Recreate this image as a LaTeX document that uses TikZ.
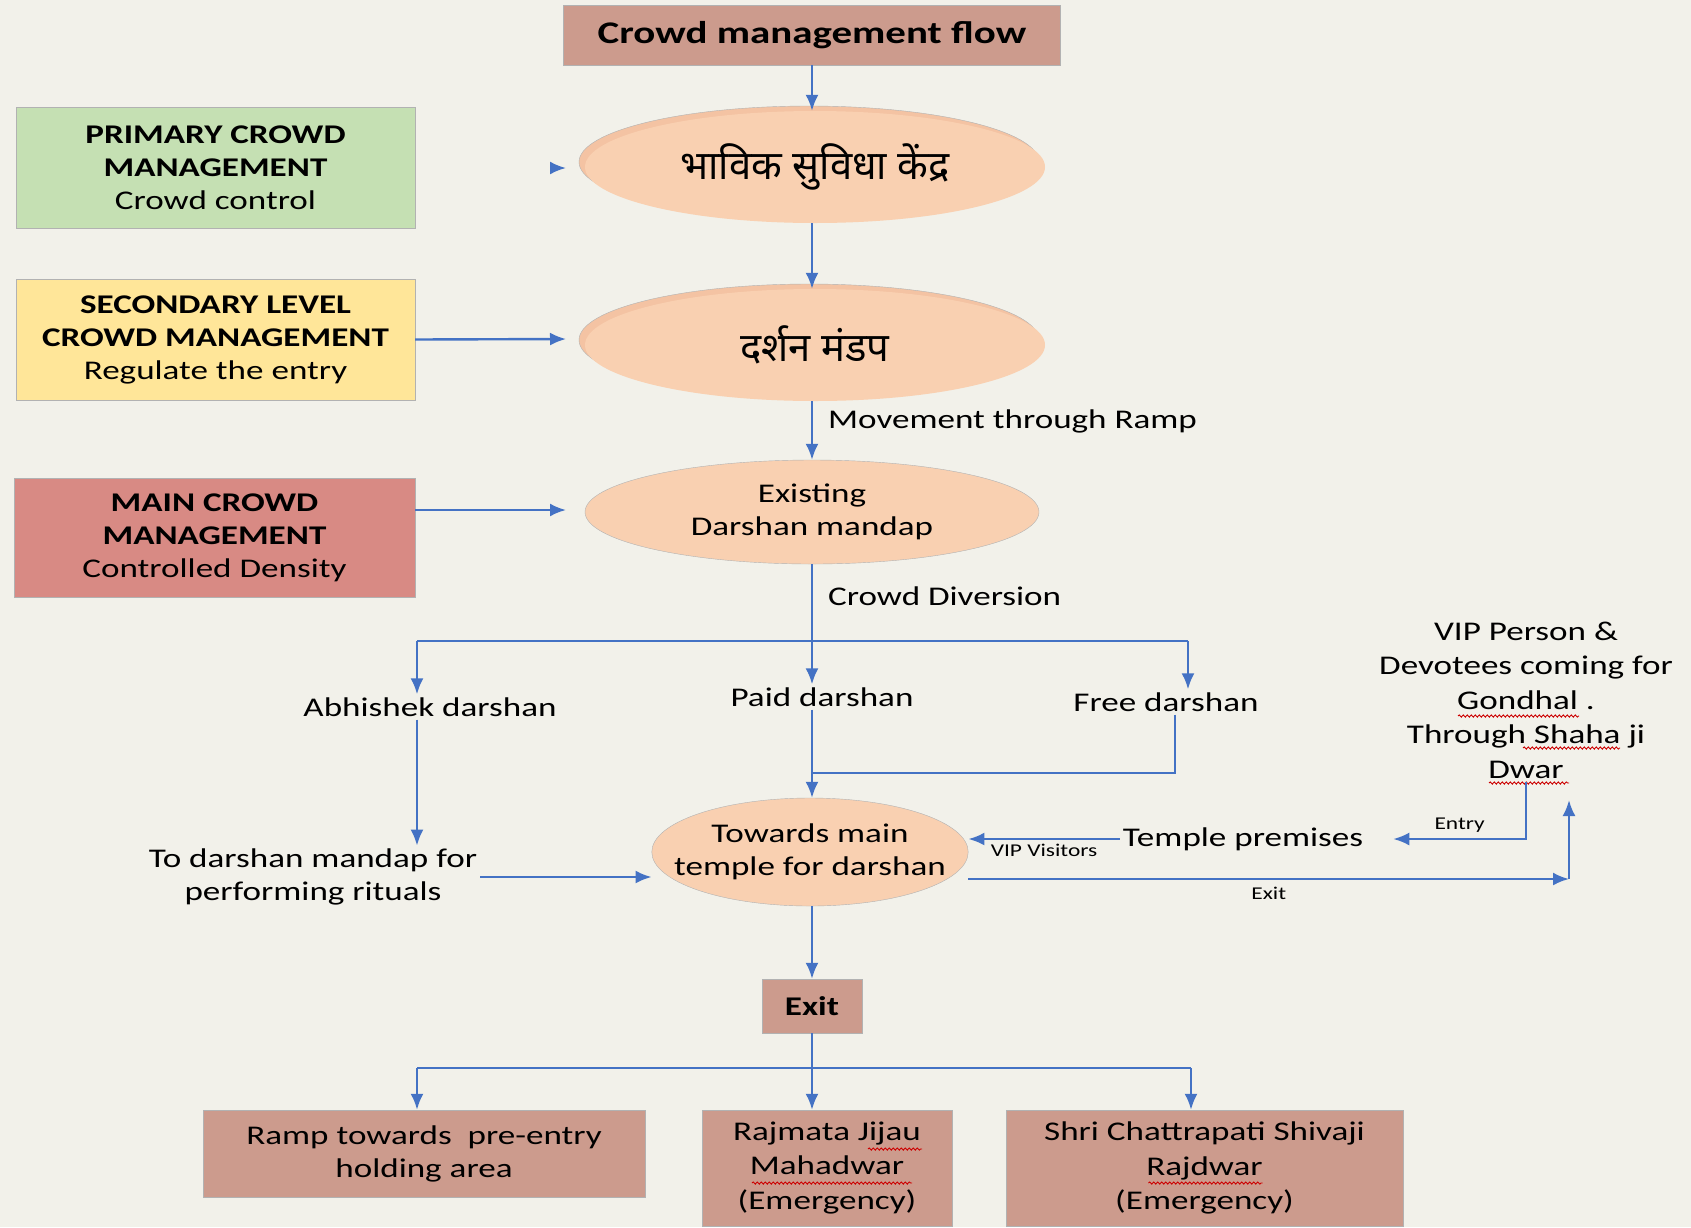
\documentclass[tikz,border=0pt]{standalone}
\usepackage{fontspec}
\usepackage{xcolor}
\usetikzlibrary{shapes.geometric,arrows.meta,shadows,decorations.pathmorphing}
\setmainfont{Carlito}[FakeStretch=1.3]
\newfontfamily\devfont[Script=Devanagari]{Noto Sans}
\definecolor{paper}{HTML}{F2F1EA}
\definecolor{headcol}{HTML}{CC9B8D}
\definecolor{primcol}{HTML}{C5E0B3}
\definecolor{seccol}{HTML}{FFE699}
\definecolor{maincol}{HTML}{D88A84}
\definecolor{peach}{HTML}{F9D0B1}
\definecolor{peachdark}{HTML}{F4C3A3}
\definecolor{flowblue}{HTML}{4472C4}

\begin{document}
\begin{tikzpicture}[x=1pt,y=-1pt,
  every node/.style={font=\fontsize{27}{33}\selectfont,inner sep=3pt,text=black},
  headbox/.style={rectangle,fill=headcol,draw=black!30,align=center},
  sidebox/.style={rectangle,draw=black!30,align=center,minimum width=399pt,minimum height=121pt},
  oval/.style={ellipse,fill=peach,draw=black!30,align=center},
  softoval/.style={oval,draw=none,copy shadow={shadow xshift=-6pt,shadow yshift=5pt,fill=peachdark,draw=black!30}},
  small/.style={font=\fontsize{18}{20}\selectfont},
  line/.style={draw=flowblue,line width=2.4pt},
  flow/.style={line,-{Latex[length=16pt,width=13pt]}},
  squiggle/.style={draw=red!80!black,line width=0.9pt,decorate,decoration={snake,amplitude=1.1pt,segment length=4pt}}]
\useasboundingbox (0,0) rectangle (1691,1227);
\fill[paper] (0,0) rectangle (1691,1227);

\node[headbox,minimum width=497pt,minimum height=60pt,font=\fontsize{31.5}{36}\selectfont\bfseries] (title) at (812,35) {Crowd management flow};
\node[sidebox,fill=primcol] (prim) at (215.5,167.5) {\textbf{PRIMARY CROWD}\\\textbf{MANAGEMENT}\\Crowd control};
\node[sidebox,fill=seccol] (sec) at (215.5,339.5) {\textbf{SECONDARY LEVEL}\\\textbf{CROWD MANAGEMENT}\\Regulate the entry};
\node[sidebox,fill=maincol,minimum width=401pt,minimum height=119pt] (mainc) at (214.5,537.5) {\textbf{MAIN CROWD}\\\textbf{MANAGEMENT}\\Controlled Density};

\node[softoval,minimum width=460pt,minimum height=112pt] (bhavik) at (815,167) {\devfont\fontsize{40}{44}\selectfont भाविक सुविधा केंद्र};
\node[softoval,minimum width=460pt,minimum height=112pt] (darshan) at (815,345) {\devfont\fontsize{40}{44}\selectfont दर्शन मंडप};
\node[oval,minimum width=454pt,minimum height=104pt] (exist) at (812,512) {Existing\\Darshan mandap};

\node (abhi) at (430,707) {Abhishek darshan};
\node (paid) at (822,697) {Paid darshan};
\node (free) at (1166,702) {Free darshan};
\node[align=center] (todar) at (313,877) {To darshan mandap for\\performing rituals};
\node[oval,minimum width=316pt,minimum height=108pt,inner xsep=-24pt,inner ysep=0pt] (toward) at (810,852) {Towards main\\temple for darshan};
\node (temple) at (1243,839) {Temple premises};
\node[align=center,font=\fontsize{27}{34.5}\selectfont] (vip) at (1526,700) {VIP Person \&\\Devotees coming for\\Gondhal .\\Through Shaha ji\\Dwar};

\node[headbox,minimum width=100pt,minimum height=54pt,font=\fontsize{27}{33}\selectfont\bfseries] (exitb) at (812,1006) {Exit};
\node[headbox,minimum width=442pt,minimum height=87pt] (ramp) at (424,1153.5) {Ramp towards\ \ pre-entry\\holding area};
\node[headbox,minimum width=250pt,minimum height=116pt,font=\fontsize{27}{34.5}\selectfont] (raj) at (827,1168) {Rajmata Jijau\\Mahadwar\\(Emergency)};
\node[headbox,minimum width=397pt,minimum height=116pt,font=\fontsize{27}{34.5}\selectfont] (shri) at (1204.5,1168) {Shri Chattrapati Shivaji\\Rajdwar\\(Emergency)};

\draw[squiggle] ([shift={(-68,16)}]vip.center) -- ([shift={(53,16)}]vip.center);
\draw[squiggle] ([shift={(-3,48)}]vip.center) -- ([shift={(94,48)}]vip.center);
\draw[squiggle] ([shift={(-37,83)}]vip.center) -- ([shift={(43,83)}]vip.center);
\draw[squiggle] ([shift={(41,-19)}]raj.center) -- ([shift={(95,-19)}]raj.center);
\draw[squiggle] ([shift={(-75,15)}]raj.center) -- ([shift={(85,15)}]raj.center);
\draw[squiggle] ([shift={(-56,15)}]shri.center) -- ([shift={(58,15)}]shri.center);

\coordinate (primtip) at (566,168);
\coordinate (sectip) at (566,339);
\coordinate (maintip) at (566,510);
\coordinate (split) at (812,641);
\coordinate (lft) at (417,641);
\coordinate (rgt) at (1188,641);
\coordinate (join) at (812,773);
\coordinate (exitturn) at (1569,879);
\coordinate (vipback) at (1569,800);
\coordinate (gate) at (812,1068);
\coordinate (glft) at (417,1068);
\coordinate (grgt) at (1191,1068);

\draw[flow] (title) -- (title |- bhavik.north);
\draw[flow] (title |- bhavik.south) -- (title |- darshan.north);
\draw[flow] (title |- darshan.south) -- (exist) node[pos=0.35,right=12pt] (lblramp) {Movement through Ramp};
\draw[flow] ([xshift=-14pt]primtip) -- (primtip);
\draw[flow] (sec.east) -- (sectip);
\draw[flow] (mainc.east |- maintip) -- (maintip);

\draw[line] (exist.south) -- (split) node[pos=0.42,right=12pt] (lbldiv) {Crowd Diversion};
\draw[line] (lft) -- (rgt);
\draw[flow] (lft) -- (lft |- abhi.north);
\draw[flow] (split) -- (split |- paid.north);
\draw[flow] (rgt) -- (rgt |- free.north);

\draw[flow] (abhi.south -| lft) -- (lft |- todar.north);
\draw[flow] (todar.east) -- (todar.east -| toward.west);
\draw[line] ([xshift=9pt]free.south) |- (join);
\draw[flow] (paid.south -| split) -- (split |- toward.north);

\draw[flow] (temple.west) -- (temple.west -| toward.east) node[pos=0.5,below=1pt,small] (lblvip) {VIP Visitors};
\draw[flow] (vip.south) |- ([xshift=27pt]temple.east) node[pos=0.75,above=2pt,small] (lblentry) {Entry};
\draw[flow] (toward.east |- exitturn) -- (exitturn) node[pos=0.5,below=4pt,small] (lblexit) {Exit};
\draw[flow] (exitturn) -- (vipback);

\draw[flow] (split |- toward.south) -- (exitb);
\draw[line] (exitb.south) -- (gate);
\draw[line] (glft) -- (grgt);
\draw[flow] (glft) -- (glft |- ramp.north);
\draw[flow] (gate) -- (gate |- raj.north);
\draw[flow] (grgt) -- (grgt |- shri.north);
\end{tikzpicture}
\end{document}
